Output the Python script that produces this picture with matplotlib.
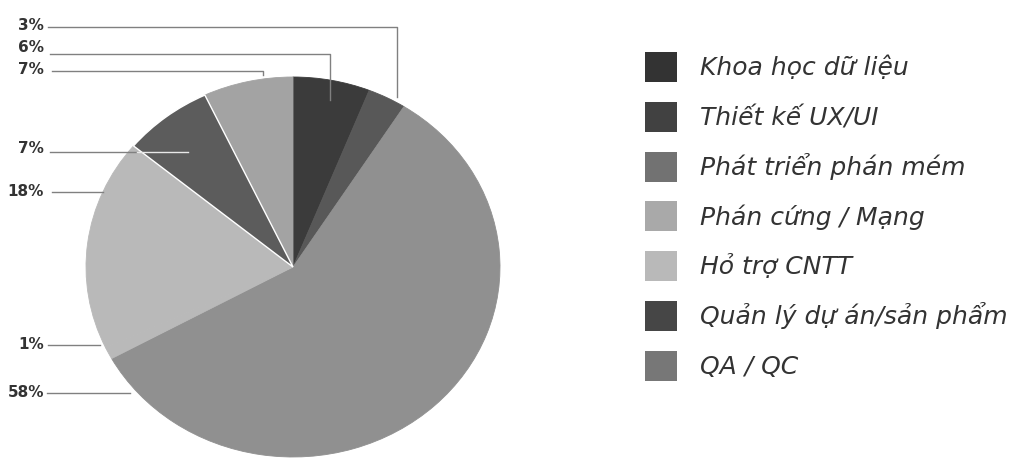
import matplotlib.pyplot as plt
from matplotlib.patches import Patch

# slice data, clockwise from 12 o'clock
labels = ['Khoa học dữ liệu', 'Thiết kế UX/UI', 'Phát triển phán mém',
          'Phán cứng / Mạng', 'Hỏ trợ CNTT', 'Quản lý dự án/sản phẩm', 'QA / QC']
shares = [6, 3, 58, 1, 18, 7, 7]
pie_colors = ['#3b3b3b', '#585858', '#909090', '#b9b9b9', '#b9b9b9', '#5c5c5c', '#a3a3a3']
legend_colors = ['#333333', '#414141', '#727272', '#a9a9a9', '#b9b9b9', '#464646', '#777777']

# percentage callouts on the left (text, text y, leader path in pixels)
callouts = [
    ('3%', 25, [(48, 27), (397, 27), (397, 97)]),
    ('6%', 47, [(50, 54), (330, 54), (330, 100)]),
    ('7%', 70, [(52, 71), (263, 71), (263, 75)]),
    ('7%', 148, [(50, 152), (137, 152)]),
    ('18%', 191, [(52, 192), (103, 192)]),
    ('1%', 344, [(48, 345), (100, 345)]),
    ('58%', 392, [(47, 393), (130, 393)]),
]

W, H = 1019, 461
fig = plt.figure(figsize=(W / 100, H / 100), dpi=100)

# pie is slightly stretched horizontally in the original
ax = fig.add_axes([86 / W, (H - 457) / H, 414 / W, 380 / H])
wedges, _ = ax.pie(shares, colors=pie_colors, startangle=90, counterclock=False,
                   radius=1)
for w, c in zip(wedges, pie_colors):
    w.set_edgecolor(c)
    w.set_linewidth(0.6)
# thin white seam between the light slice and the dark one above it
wedges[5].set_edgecolor('white')
wedges[5].set_linewidth(1.0)
wedges[5].set_zorder(3)
ax.set_aspect('auto')
ax.set_xlim(-1, 1)
ax.set_ylim(-1, 1)
ax.axis('off')

# overlay in pixel coordinates for the callouts
ov = fig.add_axes([0, 0, 1, 1], zorder=5)
ov.set_xlim(0, W)
ov.set_ylim(H, 0)
ov.axis('off')
for txt, ty, path in callouts:
    xs = [p[0] for p in path]
    ys = [p[1] for p in path]
    ov.plot(xs, ys, color='#808080', lw=1)
    ov.text(44, ty, txt, ha='right', va='center', fontsize=11, fontweight='bold',
            color='#333333', family=['Liberation Sans Narrow', 'DejaVu Sans'])
# white part of the leader inside the dark slice
ov.plot([137, 188], [152, 152], color='#e8e8e8', lw=1)

handles = [Patch(facecolor=c, edgecolor='none') for c in legend_colors]
fig.legend(handles, labels, loc='upper left', bbox_to_anchor=(645 / W, 1 - 52 / H),
           frameon=False, prop=dict(style='italic', size=18),
           handlelength=1.28, handleheight=1.47, handletextpad=0.92,
           labelspacing=0.79, borderpad=0, borderaxespad=0, labelcolor='#333333')

fig.savefig('out.png', dpi=100)
